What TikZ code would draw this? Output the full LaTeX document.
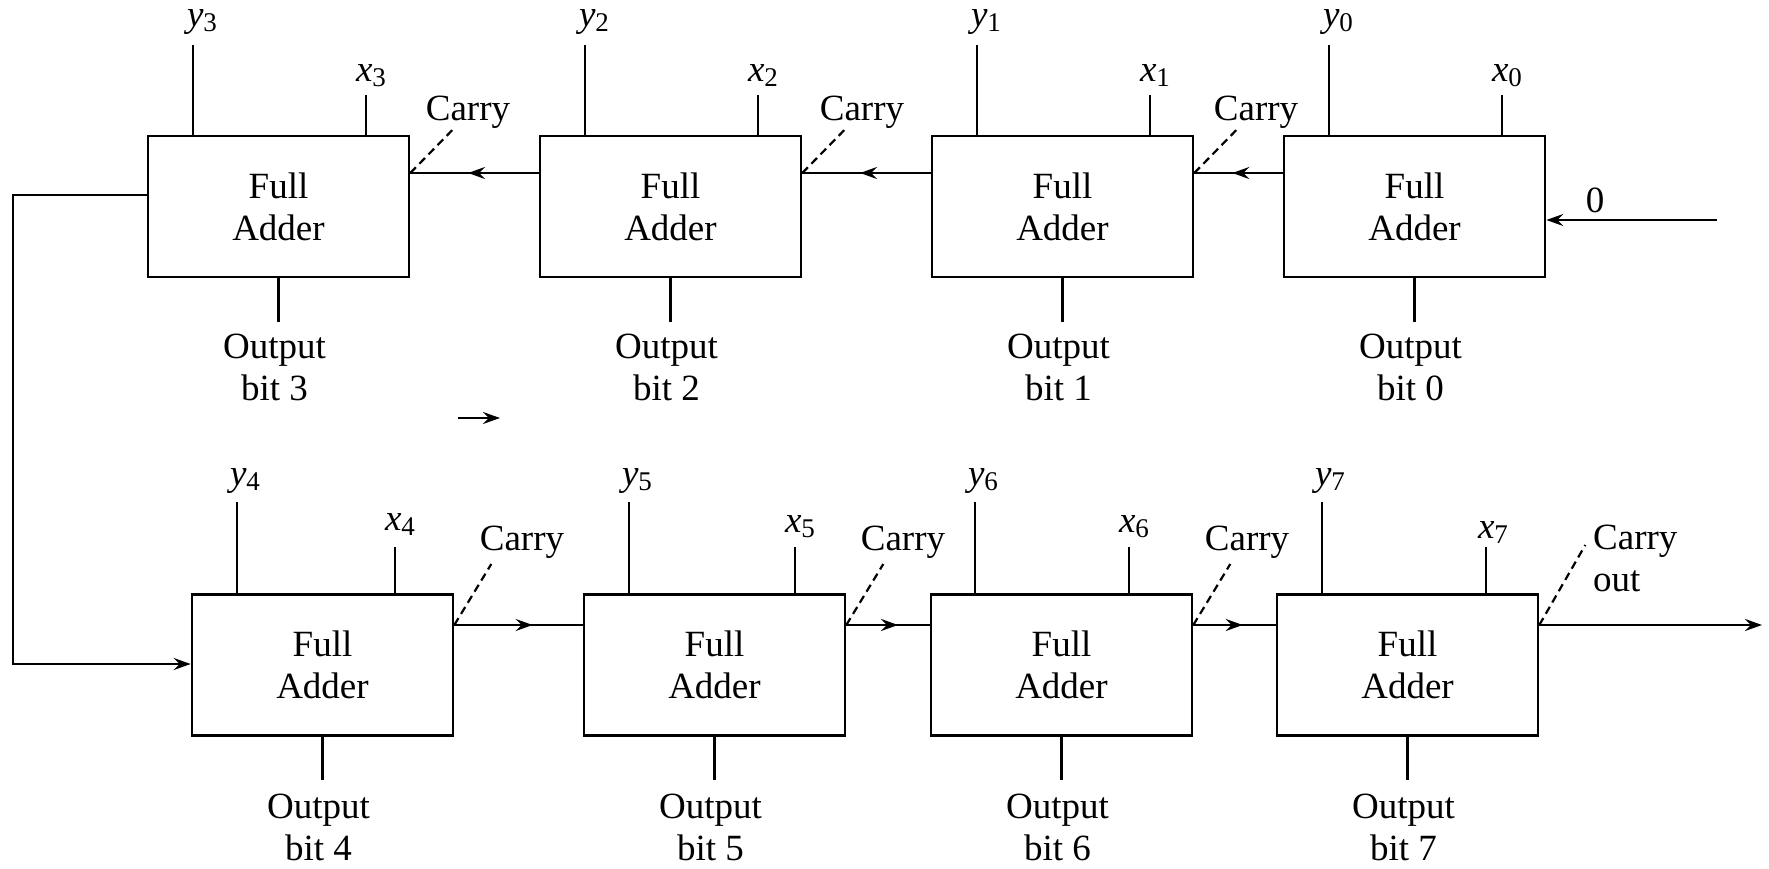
\documentclass[tikz,border=0pt]{standalone}
\usepackage{fontspec}
\setmainfont{Liberation Serif}
\usetikzlibrary{arrows.meta,decorations.markings}
\newcommand\vsub[2]{\textit{#1}\raisebox{-5pt}{\fontsize{27}{27}\selectfont #2}}
\begin{document}
\begin{tikzpicture}[x=1pt,y=-1pt, font=\fontsize{37}{42}\selectfont,
  fa/.style={draw, line width=2.6pt, minimum width=261pt, minimum height=141pt, inner sep=0pt, align=center},
  wire/.style={line width=2.6pt},
  cdash/.style={line width=2.2pt, dash pattern=on 8pt off 5pt},
  tip/.style={-{Stealth[length=17pt,width=12pt,inset=6pt]}},
  midarrow/.style={postaction={decorate}, decoration={markings, mark=at position #1 with {\arrow{Stealth[length=17pt,width=12pt,inset=6pt]}}}},
  lbl/.style={inner sep=0pt, anchor=base},
  outl/.style={inner sep=0pt, anchor=north, align=center},
]
\useasboundingbox (0,0) rectangle (1769,869);

% rows of carry lines
\coordinate (rT) at (0,173);
\coordinate (rB) at (0,625);

% ---------- top row ----------
\node[fa] (FA3) at (278.5,206.5) {Full\\Adder};
\node[fa] (FA2) at (670.5,206.5) {Full\\Adder};
\node[fa] (FA1) at (1062.5,206.5) {Full\\Adder};
\node[fa] (FA0) at (1414.5,206.5) {Full\\Adder};

% inputs top row
\coordinate (ty3) at (193,45);   \draw[wire] (ty3) -- (ty3 |- FA3.north);
\node[lbl] (ly3) at (202,27) {\vsub{y}{3}};
\coordinate (tx3) at (366,95);   \draw[wire] (tx3) -- (tx3 |- FA3.north);
\node[lbl] (lx3) at (371,82) {\vsub{x}{3}};

\coordinate (ty2) at (585,45);   \draw[wire] (ty2) -- (ty2 |- FA2.north);
\node[lbl] (ly2) at (594,27) {\vsub{y}{2}};
\coordinate (tx2) at (758,95);   \draw[wire] (tx2) -- (tx2 |- FA2.north);
\node[lbl] (lx2) at (763,82) {\vsub{x}{2}};

\coordinate (ty1) at (977,45);   \draw[wire] (ty1) -- (ty1 |- FA1.north);
\node[lbl] (ly1) at (986,27) {\vsub{y}{1}};
\coordinate (tx1) at (1150,95);  \draw[wire] (tx1) -- (tx1 |- FA1.north);
\node[lbl] (lx1) at (1155,82) {\vsub{x}{1}};

\coordinate (ty0) at (1329,45);  \draw[wire] (ty0) -- (ty0 |- FA0.north);
\node[lbl] (ly0) at (1338,27) {\vsub{y}{0}};
\coordinate (tx0) at (1502,95);  \draw[wire] (tx0) -- (tx0 |- FA0.north);
\node[lbl] (lx0) at (1507,82) {\vsub{x}{0}};

% outputs top row
\coordinate (o3) at (278.5,322);  \draw[wire] (FA3.south) -- (o3);
\node[outl] (lo3) at (274.5,334) {Output\\bit 3};
\coordinate (o2) at (670.5,322);  \draw[wire] (FA2.south) -- (o2);
\node[outl] (lo2) at (666.5,334) {Output\\bit 2};
\coordinate (o1) at (1062.5,322); \draw[wire] (FA1.south) -- (o1);
\node[outl] (lo1) at (1058.5,334) {Output\\bit 1};
\coordinate (o0) at (1414.5,322); \draw[wire] (FA0.south) -- (o0);
\node[outl] (lo0) at (1410.5,334) {Output\\bit 0};

% carries top row (right to left)
\draw[wire, midarrow=0.55] (FA2.west |- rT) -- (FA3.east |- rT);
\draw[wire, midarrow=0.55] (FA1.west |- rT) -- (FA2.east |- rT);
\draw[wire, midarrow=0.57] (FA0.west |- rT) -- (FA1.east |- rT);
\draw[cdash] (FA3.east |- rT) -- ++(45,-46);
\draw[cdash] (FA2.east |- rT) -- ++(45,-46);
\draw[cdash] (FA1.east |- rT) -- ++(45,-46);
\node[lbl] (lc3) at (468,121) {Carry};
\node[lbl] (lc2) at (862,121) {Carry};
\node[lbl] (lc1) at (1256,121) {Carry};

% carry in 0
\coordinate (cin) at (1717,220);
\draw[wire, tip] (cin) -- (cin -| FA0.east);
\node[lbl] (l0) at (1595,213) {0};

% feedback from FA3 to FA4
\coordinate (fb1) at (13,195);
\coordinate (fb2) at (13,664);
\node[fa] (FA4) at (322.5,665) {Full\\Adder};
\draw[wire, tip] (fb1 -| FA3.west) -- (fb1) -- (fb2) -- (fb2 -| FA4.west);

% stray arrow
\coordinate (s1) at (458,418);
\coordinate (s2) at (500,418);
\draw[line width=2pt, tip] (s1) -- (s2);

% ---------- bottom row ----------
\node[fa] (FA5) at (714.5,665) {Full\\Adder};
\node[fa] (FA6) at (1061.5,665) {Full\\Adder};
\node[fa] (FA7) at (1407.5,665) {Full\\Adder};

\coordinate (ty4) at (237,502);  \draw[wire] (ty4) -- (ty4 |- FA4.north);
\node[lbl] (ly4) at (245,485) {\vsub{y}{4}};
\coordinate (tx4) at (395,547);  \draw[wire] (tx4) -- (tx4 |- FA4.north);
\node[lbl] (lx4) at (400,530) {\vsub{x}{4}};

\coordinate (ty5) at (629,502);  \draw[wire] (ty5) -- (ty5 |- FA5.north);
\node[lbl] (ly5) at (637,485) {\vsub{y}{5}};
\coordinate (tx5) at (795,547);  \draw[wire] (tx5) -- (tx5 |- FA5.north);
\node[lbl] (lx5) at (800,532) {\vsub{x}{5}};

\coordinate (ty6) at (975,502);  \draw[wire] (ty6) -- (ty6 |- FA6.north);
\node[lbl] (ly6) at (983,485) {\vsub{y}{6}};
\coordinate (tx6) at (1129,547); \draw[wire] (tx6) -- (tx6 |- FA6.north);
\node[lbl] (lx6) at (1134,532) {\vsub{x}{6}};

\coordinate (ty7) at (1322,502); \draw[wire] (ty7) -- (ty7 |- FA7.north);
\node[lbl] (ly7) at (1330,485) {\vsub{y}{7}};
\coordinate (tx7) at (1486,547); \draw[wire] (tx7) -- (tx7 |- FA7.north);
\node[lbl] (lx7) at (1493,538) {\vsub{x}{7}};

% outputs bottom row
\coordinate (o4) at (322.5,780);  \draw[wire] (FA4.south) -- (o4);
\node[outl] (lo4) at (318.5,794) {Output\\bit 4};
\coordinate (o5) at (714.5,780);  \draw[wire] (FA5.south) -- (o5);
\node[outl] (lo5) at (710.5,794) {Output\\bit 5};
\coordinate (o6) at (1061.5,780); \draw[wire] (FA6.south) -- (o6);
\node[outl] (lo6) at (1057.5,794) {Output\\bit 6};
\coordinate (o7) at (1407.5,780); \draw[wire] (FA7.south) -- (o7);
\node[outl] (lo7) at (1403.5,794) {Output\\bit 7};

% carries bottom row (left to right)
\draw[wire, midarrow=0.61] (FA4.east |- rB) -- (FA5.west |- rB);
\draw[wire, midarrow=0.62] (FA5.east |- rB) -- (FA6.west |- rB);
\draw[wire, midarrow=0.6] (FA6.east |- rB) -- (FA7.west |- rB);
\coordinate (cout) at (1762,625);
\draw[wire, tip] (FA7.east |- rB) -- (cout);
\draw[cdash] (FA4.east |- rB) -- ++(37,-61);
\draw[cdash] (FA5.east |- rB) -- ++(37,-61);
\draw[cdash] (FA6.east |- rB) -- ++(37,-61);
\draw[cdash] (FA7.east |- rB) -- ++(46,-80);
\node[lbl] (lc4) at (522,550) {Carry};
\node[lbl] (lc5) at (903,550) {Carry};
\node[lbl] (lc6) at (1247,550) {Carry};
\node[inner sep=0pt, anchor=north west, align=left] (lco) at (1593,525) {Carry\\out};
\end{tikzpicture}
\end{document}
